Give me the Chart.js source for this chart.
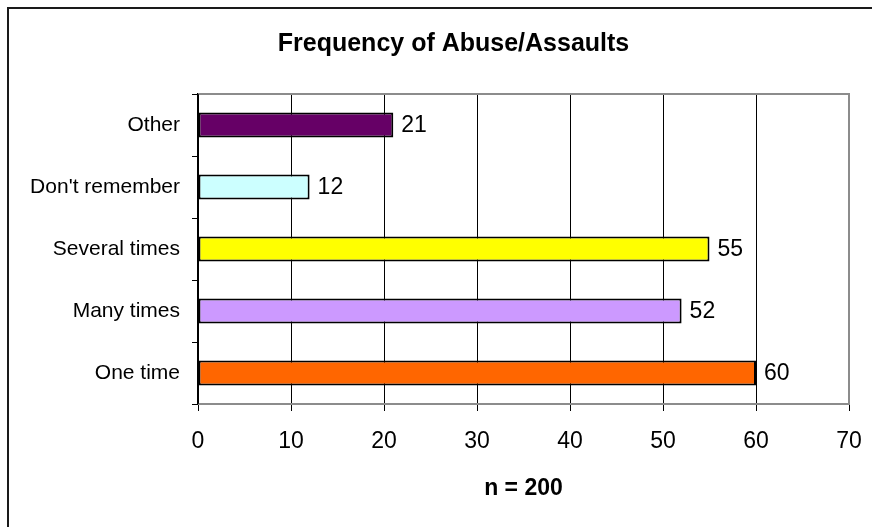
<!DOCTYPE html>
<html>
<head>
<meta charset="utf-8">
<script src="https://cdn.jsdelivr.net/npm/chart.js@4/dist/chart.umd.min.js"></script>
<style>
  html, body { margin: 0; padding: 0; background: #fff; overflow: hidden; }
  #wrap { position: relative; width: 872px; height: 527px; overflow: hidden; }
  #frame { position: absolute; left: 7px; top: 7px; width: 1000px; height: 1000px;
           border-top: 2px solid #1a1a1a; border-left: 2px solid #1a1a1a; }
  canvas { position: absolute; left: 0; top: 0; }
</style>
</head>
<body>
<div id="wrap">
  <div id="frame"></div>
  <canvas id="c" width="872" height="527"></canvas>
</div>
<script>
const categories = ["Other", "Don't remember", "Several times", "Many times", "One time"];
const values = [21, 12, 55, 52, 60];
const barColors = ["#660066", "#CCFFFF", "#FFFF00", "#CC99FF", "#FF6600"];
const xTicks = [0, 10, 20, 30, 40, 50, 60, 70];
const chartTitle = "Frequency of Abuse/Assaults";
const xTitle = "n = 200";

const FONT = "'Liberation Sans', Arial, sans-serif";

const plotBorder = {
  id: 'plotBorder',
  beforeDatasetsDraw(chart) {
    const { ctx, chartArea: a } = chart;
    ctx.save();
    ctx.strokeStyle = '#8c8c8c';
    ctx.lineWidth = 2;
    ctx.beginPath();
    ctx.moveTo(a.left, a.top);
    ctx.lineTo(a.right, a.top);
    ctx.lineTo(a.right, a.bottom);
    ctx.lineTo(a.left, a.bottom);
    ctx.stroke();
    ctx.strokeStyle = '#000';
    ctx.lineWidth = 1.5;
    ctx.beginPath();
    ctx.moveTo(a.left, a.top);
    ctx.lineTo(a.left, a.bottom);
    ctx.stroke();
    ctx.restore();
  }
};

const titlePlugin = {
  id: 'titlePlugin',
  afterDraw(chart) {
    const { ctx } = chart;
    ctx.save();
    ctx.fillStyle = '#000';
    ctx.font = "bold 25px " + FONT;
    ctx.textAlign = 'center';
    ctx.textBaseline = 'middle';
    ctx.fillText(chartTitle, 453.5, 44);
    ctx.restore();
  }
};

const valueLabels = {
  id: 'valueLabels',
  afterDatasetsDraw(chart) {
    const { ctx } = chart;
    const meta = chart.getDatasetMeta(0);
    ctx.save();
    ctx.fillStyle = '#000';
    ctx.font = "23px " + FONT;
    ctx.textAlign = 'left';
    ctx.textBaseline = 'middle';
    meta.data.forEach((bar, i) => {
      ctx.fillText(String(values[i]), bar.x + 8, bar.y + 1);
    });
    ctx.restore();
  }
};

new Chart(document.getElementById('c'), {
  type: 'bar',
  data: {
    labels: categories,
    datasets: [{
      data: values,
      backgroundColor: barColors,
      borderColor: '#000',
      borderWidth: 2,
      borderSkipped: false,
      barPercentage: 0.4,
      categoryPercentage: 1.0
    }]
  },
  options: {
    indexAxis: 'y',
    responsive: false,
    animation: false,
    devicePixelRatio: 1,
    layout: { padding: { left: 0, right: 23, top: 94, bottom: 0 } },
    plugins: {
      legend: { display: false },
      tooltip: { enabled: false },
      title: { display: false }
    },
    scales: {
      x: {
        type: 'linear',
        min: 0,
        max: 70,
        afterBuildTicks(scale) { scale.ticks = xTicks.map(v => ({ value: v })); },
        afterFit(scale) {
          scale.height = 123;
          scale.paddingLeft = 0;
          scale.paddingRight = 0;
        },
        ticks: {
          color: '#000',
          font: { family: FONT, size: 23 },
          padding: 17
        },
        grid: {
          color: '#000',
          lineWidth: 1,
          tickLength: 7,
          tickColor: '#000'
        },
        border: { display: true, color: '#8c8c8c', width: 2 },
        title: {
          display: true,
          text: xTitle,
          color: '#000',
          font: { family: FONT, size: 23, weight: 'bold' },
          padding: { top: 0, bottom: 25 }
        }
      },
      y: {
        afterFit(scale) {
          scale.width = 198;
          scale.paddingTop = 0;
          scale.paddingBottom = 0;
        },
        ticks: {
          color: '#000',
          font: { family: FONT, size: 21 },
          padding: 12
        },
        grid: {
          drawOnChartArea: false,
          offset: true,
          tickLength: 6,
          color: '#000',
          tickColor: '#000'
        },
        border: { display: true, color: '#000', width: 1.5 }
      }
    }
  },
  plugins: [plotBorder, valueLabels, titlePlugin]
});
</script>
</body>
</html>
